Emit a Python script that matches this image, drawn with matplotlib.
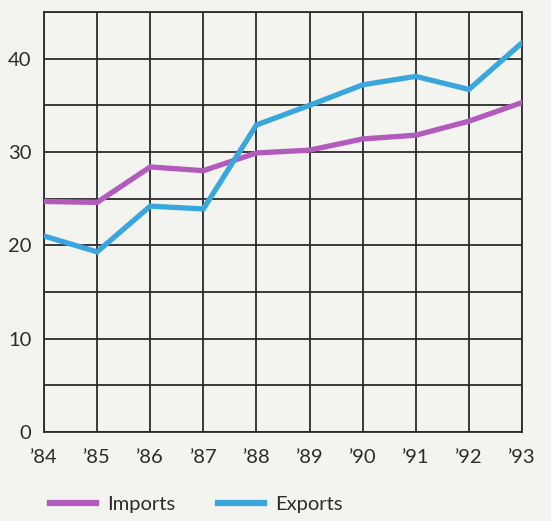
import matplotlib
matplotlib.use("Agg")
import matplotlib.pyplot as plt
from matplotlib.lines import Line2D

years = ["’84", "’85", "’86", "’87", "’88", "’89", "’90", "’91", "’92", "’93"]
imports = [24.7, 24.6, 28.4, 28.0, 29.9, 30.2, 31.4, 31.8, 33.3, 35.3]
exports = [21.0, 19.3, 24.2, 23.9, 32.9, 35.0, 37.2, 38.1, 36.7, 41.7]
y_ticks = [0, 10, 20, 30, 40]

IMPORT_COLOR = "#b25bbd"
EXPORT_COLOR = "#39a7dd"
PAPER = "#f3f3f0"
INK = "#2b2b2b"

plt.rcParams["font.family"] = ["Lato", "DejaVu Sans"]

W, H = 551, 521
fig = plt.figure(figsize=(W / 100, H / 100), dpi=100, facecolor=PAPER)
ax = fig.add_axes([44 / W, (H - 432) / H, (522 - 44) / W, (432 - 12) / H])
ax.set_facecolor(PAPER)

x = list(range(len(years)))
ax.plot(x, imports, color=IMPORT_COLOR, lw=3.8, solid_joinstyle="miter", zorder=3)
ax.plot(x, exports, color=EXPORT_COLOR, lw=3.8, solid_joinstyle="miter", zorder=4)

ax.set_xlim(0, len(years) - 1)
ax.set_ylim(0, 45)
ax.set_xticks(x)
ax.set_xticklabels(years)
ax.set_yticks(y_ticks)
ax.set_yticks(range(0, 46, 5), minor=True)
ax.grid(True, which="both", axis="y", color=INK, lw=1.3)
ax.grid(True, which="major", axis="x", color=INK, lw=1.3)
ax.set_axisbelow(True)
for s in ax.spines.values():
    s.set_color(INK)
    s.set_linewidth(1.3)
ax.tick_params(which="both", length=0, labelsize=14.5, colors=INK)
ax.tick_params(axis="x", pad=12)
ax.tick_params(axis="y", pad=9)

handles = [
    Line2D([], [], color=IMPORT_COLOR, lw=4.5),
    Line2D([], [], color=EXPORT_COLOR, lw=4.5),
]
fig.legend(handles, ["Imports", "Exports"], loc="center left",
           bbox_to_anchor=(50 / W, 1 - 504 / H), ncol=2, frameon=False,
           borderpad=0, borderaxespad=0,
           fontsize=14.5, handlelength=2.3, handletextpad=0.55,
           columnspacing=2.1, labelcolor=INK)

fig.savefig("out.png", dpi=100, facecolor=PAPER)
